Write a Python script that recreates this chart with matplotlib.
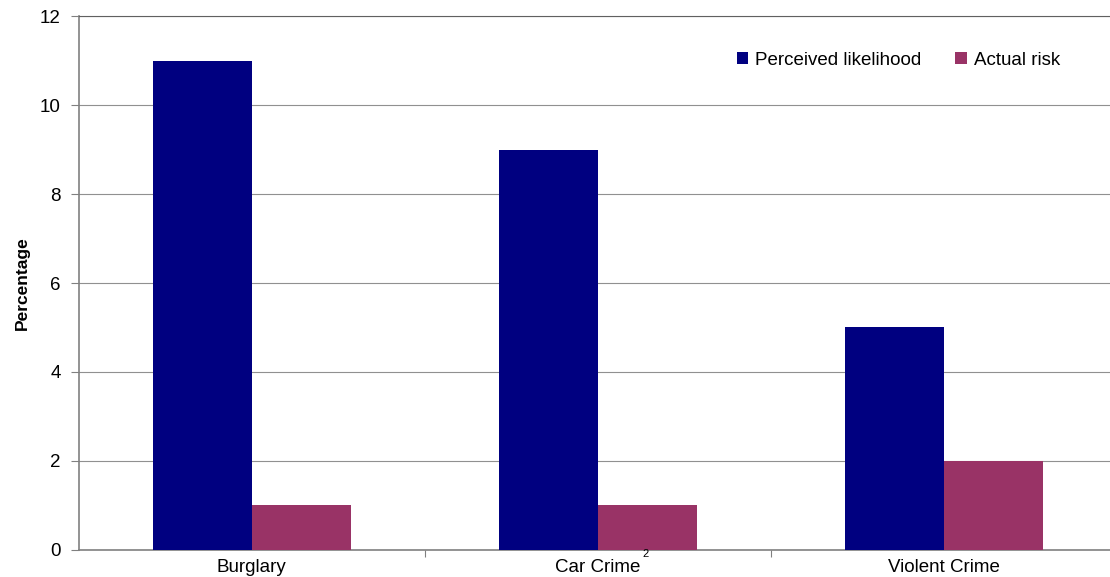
import numpy as np
import matplotlib
matplotlib.use('Agg')
import matplotlib.pyplot as plt

plt.rcParams['font.family'] = ['Liberation Sans', 'DejaVu Sans']

categories = ['Burglary', 'Car Crime', 'Violent Crime']
perceived = [11, 9, 5]
actual = [1, 1, 2]
yticks = [0, 2, 4, 6, 8, 10, 12]

fig = plt.figure(figsize=(11.1, 5.77), dpi=100)
ax = fig.add_axes([0.071, 0.047, 0.935, 0.925])

x = np.arange(len(categories))
w = 0.286
ax.bar(x - w / 2, perceived, w, color='#000080', label='Perceived likelihood', zorder=3)
ax.bar(x + w / 2, actual, w, color='#993366', label='Actual risk', zorder=3)

ax.set_xlim(-0.5, 2.5)
ax.set_ylim(0, 12)
ax.set_yticks(yticks)
ax.set_yticklabels([str(t) for t in yticks], fontsize=13.5)
ax.tick_params(axis='y', length=6, color='#808080', pad=7)
ax.yaxis.grid(True, color='#909090', linewidth=0.8, zorder=0)

ax.set_xticks([0.5, 1.5])
ax.set_xticklabels([])
ax.tick_params(axis='x', length=5, color='#808080', direction='out')
for i, c in enumerate(categories):
    ax.text(i, -0.4, c, ha='center', va='center', fontsize=13.5)
ax.text(1.137, -0.1, '2', ha='center', va='center', fontsize=8)

for s in ['left', 'bottom']:
    ax.spines[s].set_color('#808080')
    ax.spines[s].set_linewidth(1.2)
for s in ['top', 'right']:
    ax.spines[s].set_color('#606060')
    ax.spines[s].set_linewidth(0.8)

ax.set_ylabel('Percentage', fontsize=12.5, fontweight='bold', labelpad=7)

ax.legend(loc='upper right', bbox_to_anchor=(0.962, 0.965), frameon=False, ncol=2,
          fontsize=13.5, handlelength=0.6, handleheight=0.6, handletextpad=0.4,
          columnspacing=1.8)

fig.savefig('out.png', dpi=100)
